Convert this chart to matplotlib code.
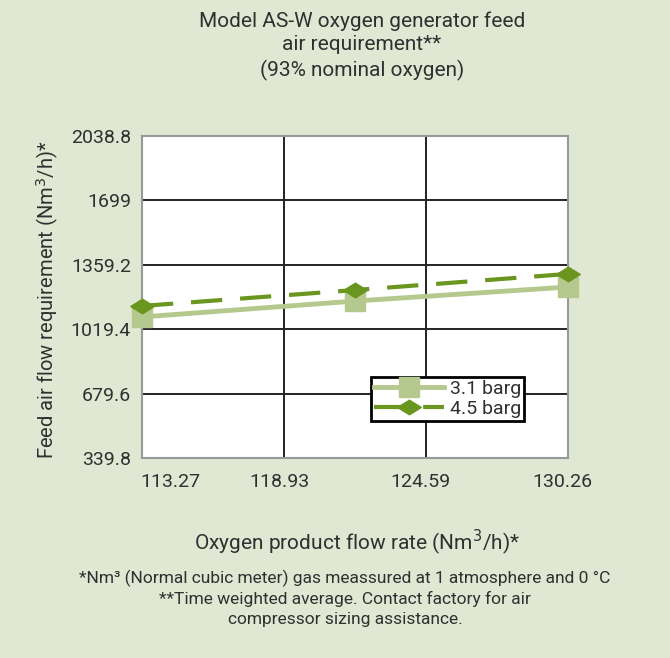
import numpy as np
import matplotlib
matplotlib.use("Agg")
import matplotlib.pyplot as plt
from matplotlib.transforms import ScaledTranslation

# ── data ──
oxygen_flow = [113.27, 121.765, 130.26]
feed_31 = [1084, 1168, 1242]
feed_45 = [1142, 1226, 1311]
series_labels = ["3.1 barg", "4.5 barg"]
x_ticks = [113.27, 118.93, 124.59, 130.26]
x_ticklabels = ["113.27", "118.93", "124.59", "130.26"]
y_ticks = [339.8, 679.6, 1019.4, 1359.2, 1699, 2038.8]
y_ticklabels = ["339.8", "679.6", "1019.4", "1359.2", "1699", "2038.8"]

BG = "#e0e8d3"
LIGHT = "#b5c98e"
DARK = "#6a961f"
TXT = "#303030"

plt.rcParams["font.family"] = ["Roboto", "DejaVu Sans"]

# flattened diamond like the reference markers
flat_diamond = [(-1, 0), (0, 0.62), (1, 0), (0, -0.62), (-1, 0)]

fig = plt.figure(figsize=(6.7, 6.58), dpi=100, facecolor=BG)
ax = fig.add_axes([142/670, 1 - 458/658, 426/670, 322/658])
ax.set_facecolor("white")

ax.plot(oxygen_flow, feed_31, color=LIGHT, lw=3.5, marker="s", ms=14,
        label=series_labels[0], clip_on=False, zorder=3)
ax.plot(oxygen_flow, feed_45, color=DARK, lw=3, ls=(0, (7.5, 4.3)), marker=flat_diamond,
        ms=17, label=series_labels[1], clip_on=False, zorder=4)

ax.set_xlim(113.27, 130.26)
ax.set_ylim(339.8, 2038.8)
ax.set_xticks(x_ticks)
ax.set_xticklabels(x_ticklabels, fontsize=14, color=TXT)
ax.set_yticks(y_ticks)
ax.set_yticklabels(y_ticklabels, fontsize=14, color=TXT)
ax.tick_params(length=0, pad=8)
ax.tick_params(axis="x", pad=11)

# Excel-style offsets on the x tick labels
shifts = [28, -5, -5, -6]
for lab, dx in zip(ax.get_xticklabels(), shifts):
    lab.set_transform(lab.get_transform() + ScaledTranslation(dx/100, 0, fig.dpi_scale_trans))

ax.grid(True, color="#222222", lw=1.4)
ax.set_axisbelow(True)
for s in ax.spines.values():
    s.set_color("#999999"); s.set_linewidth(1.5)

leg = ax.legend(loc="upper left", bbox_to_anchor=((371-142)/426, (458-377)/322),
                fontsize=14, frameon=True, fancybox=False, borderpad=0.15,
                handlelength=3.6, handletextpad=0.3, labelspacing=0.1,
                labelcolor=TXT, borderaxespad=0)
leg.get_frame().set_edgecolor("black")
leg.get_frame().set_linewidth(2)
leg.get_frame().set_alpha(1)

fig.text(362/670, 1 - 46/658, "Model AS-W oxygen generator feed\nair requirement**\n(93% nominal oxygen)",
         ha="center", va="center", fontsize=15, color=TXT, linespacing=1.3)
fig.text(48/670, 1 - 300/658, "Feed air flow requirement (Nm$^3$/h)*", rotation=90,
         ha="center", va="center", fontsize=14.5, color=TXT)
fig.text(357/670, 1 - 542/658, "Oxygen product flow rate (Nm$^{3}$/h)*",
         ha="center", va="center", fontsize=15, color=TXT)
fig.text(345/670, 1 - 598/658,
         "*Nm\u00b3 (Normal cubic meter) gas meassured at 1 atmosphere and 0 \u00b0C\n"
         "**Time weighted average. Contact factory for air\n"
         "compressor sizing assistance.",
         ha="center", va="center", fontsize=12.5, color=TXT, linespacing=1.35)

fig.savefig("out.png", dpi=100, facecolor=BG)
